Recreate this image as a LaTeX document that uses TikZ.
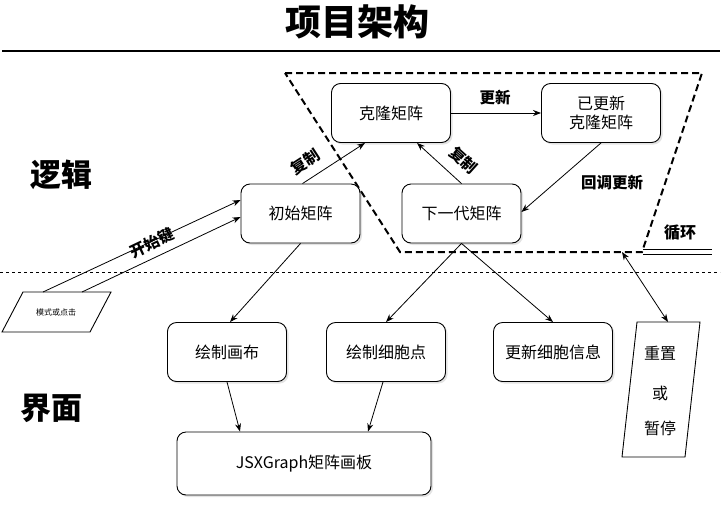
\documentclass[tikz,border=0pt]{standalone}
\usepackage{fontspec}
\setmainfont{Noto Sans CJK SC}
\usetikzlibrary{arrows.meta,shadows,calc}
\begin{document}
\begin{tikzpicture}[x=1pt,y=-1pt,
  box/.style={draw, line width=0.9pt, rounded corners=9pt, fill=white,
    minimum width=119pt, minimum height=59pt, inner sep=0pt,
    font=\fontsize{16}{19}\selectfont,
    drop shadow={opacity=0.22, shadow xshift=2pt, shadow yshift=-2pt}},
  arr/.style={-{Stealth[length=8pt,width=6pt]}, line width=0.8pt},
  lbl/.style={font=\fontsize{15.5}{18}\selectfont\bfseries, inner sep=0pt},
  big/.style={font=\fontsize{31}{34}\selectfont\bfseries, inner sep=0pt},
  loop/.style={dashed, line width=2pt, dash pattern=on 7pt off 4pt}
]
\useasboundingbox (0,0) rectangle (725,509);
% title
\node[big, font=\fontsize{36}{40}\selectfont\bfseries] (title) at (357,22) {项目架构};
\draw[line width=1.3pt] (2,51) -- (720,51);
\draw[line width=0.7pt, dash pattern=on 3pt off 3pt] (0,272) -- (720,272);
% section labels
\node[big] (logic) at (61,175) {逻辑};
\node[big] (ui) at (51,408) {界面};
% loop region
\draw[loop] (285,73) -- (702,73) -- (642,252) -- (400,252) -- cycle;
\coordinate (loopb) at (622,252);
\draw[line width=1.6pt] (643,249.5) -- (712,249.5);
\draw[line width=1.6pt] (643,254.5) -- (712,254.5);
\node[lbl, font=\fontsize{16}{18}\selectfont\bfseries] (cyc) at (680,233) {循环};
% nodes
\node[box] (clone) at (391,113) {克隆矩阵};
\node[box, align=center] (upd) at (601,113) {已更新\\克隆矩阵};
\node[box] (init) at (300.5,213.5) {初始矩阵};
\node[box] (next) at (461.5,213.5) {下一代矩阵};
\node[box] (canvas) at (227,352) {绘制画布};
\node[box] (cells) at (386,352) {绘制细胞点};
\node[box] (info) at (553,352) {更新细胞信息};
\node[box, minimum width=254pt, minimum height=63pt] (board) at (304,463.5) {JSXGraph矩阵画板};
% parallelogram: mode or click
\draw[line width=0.9pt, fill=white] (23,292) -- (111,292) -- (90,332) -- (2,332) -- cycle;
\node[font=\fontsize{8}{9}\selectfont, inner sep=0pt] (mode) at (56,312) {模式或点击};
\coordinate (m1) at (43,292);
\coordinate (m2) at (82,292);
% parallelogram: reset or pause
\draw[line width=0.9pt, fill=white] (637,322) -- (700,322) -- (685,457) -- (622,457) -- cycle;
\node[font=\fontsize{16}{18}\selectfont, inner sep=0pt] (r1) at (660,353) {重置};
\node[font=\fontsize{16}{18}\selectfont, inner sep=0pt] (r2) at (660,393) {或};
\node[font=\fontsize{16}{18}\selectfont, inner sep=0pt] (r3) at (660,428) {暂停};
\coordinate (rtop) at (668,322);
% connectors
\draw[arr] (m1) -- ([yshift=13.5pt]init.west);
\draw[arr] (m2) -- ([yshift=-3.5pt]init.west);
\node[lbl, rotate=25.4] (startkey) at (152.5,243) {开始键};
\draw[arr] ([xshift=2pt]init.north) -- ([xshift=-26pt]clone.south);
\node[lbl, rotate=33] (cp1) at (305,162) {复制};
\draw[arr] (next.north) -- ([xshift=26pt]clone.south);
\node[lbl, rotate=-42] (cp2) at (463.5,160.5) {复制};
\draw[arr] (clone.east) -- (upd.west);
\node[lbl] (updl) at (495,98) {更新};
\draw[arr] (upd.south) -- ([yshift=1.5pt]next.east);
\node[lbl] (cb) at (612,183) {回调更新};
\draw[arr] (init.south) -- ([xshift=3pt]canvas.north);
\draw[arr] (next.south) -- (cells.north);
\draw[arr] (next.south) -- (info.north);
\draw[arr] (canvas.south) -- ([xshift=-64pt]board.north);
\draw[arr] ([xshift=-3pt]cells.south) -- ([xshift=64pt]board.north);
\draw[{Stealth[length=8pt,width=6pt]}-{Stealth[length=8pt,width=6pt]}, line width=0.8pt] (loopb) -- (rtop);
\end{tikzpicture}
\end{document}
